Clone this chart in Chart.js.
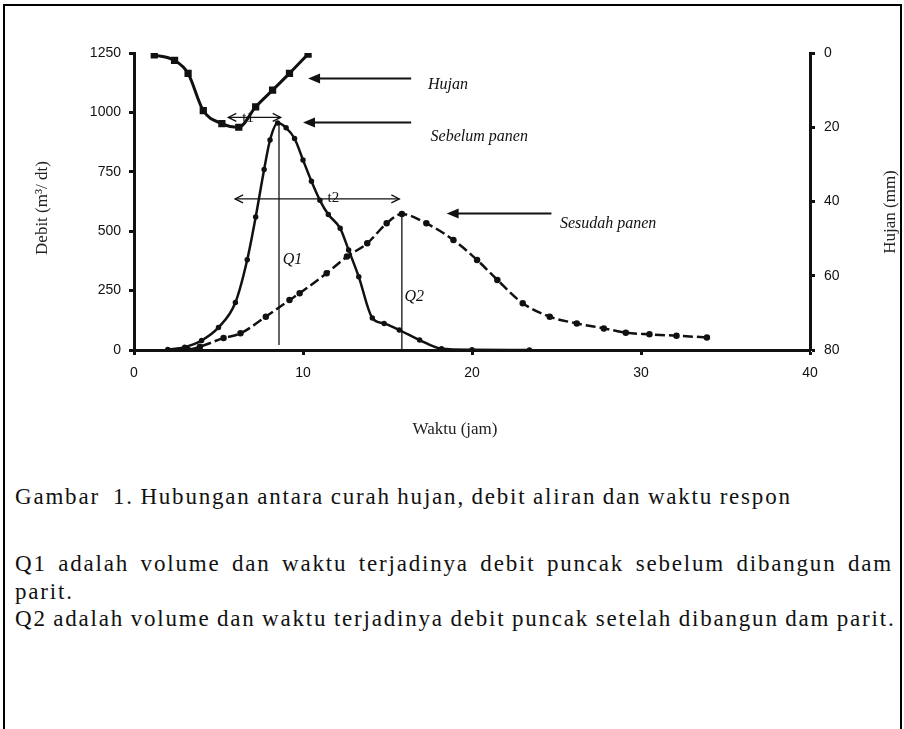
<!DOCTYPE html>
<html>
<head>
<meta charset="utf-8">
<script src="https://cdn.jsdelivr.net/npm/chart.js@4.4.0/dist/chart.umd.min.js"></script>
<style>
  body { margin: 0; background: #fff; width: 904px; height: 729px; overflow: hidden; position: relative; }
  #frame { position: absolute; left: 3px; top: 4px; width: 895px; height: 760px; border: 2px solid #000; }
  #wrap { position: absolute; left: 0; top: 0; width: 904px; height: 460px; }
  .cap { position: absolute; left: 15px; font-family: "Liberation Serif", "Times New Roman", serif; font-size: 23px;
         line-height: 23px; color: #111; white-space: pre; letter-spacing: 1.8px; word-spacing: -1px; }
  #q1 { width: 878px; white-space: normal; text-align: justify; text-align-last: justify; }
</style>
</head>
<body>
<div id="frame"></div>
<div id="wrap"><canvas id="hydro" width="904" height="460"></canvas></div>
<div class="cap" style="top:485px">Gambar  1. Hubungan antara curah hujan, debit aliran dan waktu respon</div>
<div class="cap" id="q1" style="top:552px">Q1 adalah volume dan waktu terjadinya debit puncak sebelum dibangun dam</div>
<div class="cap" style="top:580px">parit.</div>
<div class="cap" style="top:607px">Q2 adalah volume dan waktu terjadinya debit puncak setelah dibangun dam parit.</div>

<script>
// rainfall (mm, right axis, drawn downward from the top)
const rainHours = [1.2, 2.4, 3.2, 4.1, 5.2, 6.2, 7.2, 8.2, 9.2, 10.3];
const rainMm = [0.5, 2, 5.5, 15.5, 19, 20, 14.5, 10, 5.5, 0.3];

// discharge before harvest (m3/dt)
const beforeHours = [2, 3, 4, 5, 6, 6.7, 7.2, 7.7, 8.05, 8.5, 9.0, 9.5, 10.0, 10.5, 11.0, 11.5, 12.2, 12.7, 13.3, 14.1, 14.8, 15.7, 16.9, 18.2, 20, 23.4];
const beforeFlow = [2, 12, 40, 95, 200, 380, 560, 760, 884, 955, 935, 890, 800, 710, 630, 570, 512, 421, 308, 135, 112, 84, 42, 5, 1, 0];

// discharge after harvest (m3/dt)
const afterHours = [3.2, 3.9, 5.3, 6.3, 7.8, 9.2, 9.8, 11.4, 12.6, 13.8, 14.95, 15.85, 17.3, 18.9, 20.3, 21.5, 23.0, 24.6, 26.2, 27.8, 29.1, 30.5, 32.1, 33.9];
const afterFlow = [0, 14, 50, 70, 140, 210, 239, 323, 393, 449, 533, 572, 533, 463, 379, 295, 197, 140, 112, 91, 73, 66, 60, 53];

// axis ticks
const hourTicks = [0, 10, 20, 30, 40];
const flowTicks = [0, 250, 500, 750, 1000, 1250];
const rainTicks = [0, 20, 40, 60, 80];

const pts = (xs, ys) => xs.map((x, i) => ({ x: x, y: ys[i] }));

const tickFont = { family: "'Liberation Sans Narrow', 'Liberation Sans', Arial, sans-serif", size: 14 };
const serif = "'Liberation Serif', 'Times New Roman', serif";

function drawArrowHead(ctx, x, y, dir) {
  ctx.beginPath();
  ctx.moveTo(x, y);
  ctx.lineTo(x - dir * 12, y - 5);
  ctx.lineTo(x - dir * 12, y + 5);
  ctx.closePath();
  ctx.fill();
}

function drawOpenHead(ctx, x, y, dir) {
  ctx.beginPath();
  ctx.moveTo(x - dir * 8, y - 4);
  ctx.lineTo(x, y);
  ctx.lineTo(x - dir * 8, y + 4);
  ctx.stroke();
}

// labels, arrows and the Q1/Q2 markers, placed in hour / debit units
const notes = {
  id: 'notes',
  afterDatasetsDraw(chart) {
    const { ctx, scales: { x, y } } = chart;
    ctx.save();
    ctx.fillStyle = '#111';
    ctx.strokeStyle = '#111';

    // pointers to each curve
    const pointers = [
      { from: 16.4, to: 10.3, at: 1143, text: 'Hujan', tx: 17.4, ty: 1115 },
      { from: 16.4, to: 10.0, at: 957, text: 'Sebelum panen', tx: 17.55, ty: 896 },
      { from: 24.7, to: 18.5, at: 575, text: 'Sesudah panen', tx: 25.2, ty: 530 }
    ];
    ctx.lineWidth = 2;
    ctx.font = 'italic 16px ' + serif;
    ctx.textBaseline = 'middle';
    ctx.textAlign = 'left';
    pointers.forEach(p => {
      const py = y.getPixelForValue(p.at);
      const x0 = x.getPixelForValue(p.to);
      const x1 = x.getPixelForValue(p.from);
      ctx.beginPath();
      ctx.moveTo(x1, py);
      ctx.lineTo(x0 + 10, py);
      ctx.stroke();
      drawArrowHead(ctx, x0, py, -1);
      ctx.fillText(p.text, x.getPixelForValue(p.tx), y.getPixelForValue(p.ty));
    });

    // response time spans
    const spans = [
      { a: 5.58, b: 8.68, at: 979, text: 't1', tx: 6.75, ty: 976 },
      { a: 5.98, b: 15.7, at: 636, text: 't2', tx: 11.8, ty: 640 }
    ];
    ctx.lineWidth = 1.3;
    ctx.font = '15px ' + serif;
    ctx.textAlign = 'center';
    spans.forEach(s => {
      const py = y.getPixelForValue(s.at);
      const xa = x.getPixelForValue(s.a);
      const xb = x.getPixelForValue(s.b);
      ctx.beginPath();
      ctx.moveTo(xa, py);
      ctx.lineTo(xb, py);
      ctx.stroke();
      drawOpenHead(ctx, xa, py, -1);
      drawOpenHead(ctx, xb, py, 1);
      ctx.fillText(s.text, x.getPixelForValue(s.tx), y.getPixelForValue(s.ty));
    });

    // peak markers
    const peaks = [
      { h: 8.58, top: 955, bottom: 21, text: 'Q1', tx: 8.8, ty: 379 },
      { h: 15.85, top: 572, bottom: 0, text: 'Q2', tx: 16.0, ty: 223 }
    ];
    ctx.font = 'italic 16px ' + serif;
    ctx.textAlign = 'left';
    peaks.forEach(q => {
      const px = x.getPixelForValue(q.h);
      ctx.beginPath();
      ctx.moveTo(px, y.getPixelForValue(q.top));
      ctx.lineTo(px, y.getPixelForValue(q.bottom));
      ctx.stroke();
      ctx.fillText(q.text, x.getPixelForValue(q.tx), y.getPixelForValue(q.ty));
    });

    // axis titles (both vertical ones read bottom to top)
    ctx.font = '17px ' + serif;
    ctx.textAlign = 'center';
    ctx.fillStyle = '#222';
    ctx.fillText('Waktu (jam)', 455, 430);
    ctx.save();
    ctx.translate(43, 208);
    ctx.rotate(-Math.PI / 2);
    ctx.fillText('Debit (m\u00B3/ dt)', 0, 0);
    ctx.restore();
    ctx.save();
    ctx.translate(891, 212);
    ctx.rotate(-Math.PI / 2);
    ctx.fillText('Hujan (mm)', 0, 0);
    ctx.restore();

    ctx.restore();
  }
};

const axisGrid = { drawOnChartArea: false, color: '#111', tickLength: 5, tickWidth: 3 };
const axisBorder = { color: '#111', width: 3 };
const plain = v => String(v);

new Chart(document.getElementById('hydro'), {
  type: 'line',
  data: {
    datasets: [
      {
        label: 'Hujan',
        data: pts(rainHours, rainMm),
        yAxisID: 'y2',
        borderColor: '#111',
        backgroundColor: '#111',
        borderWidth: 3,
        pointRadius: 3,
        pointStyle: 'rect',
        cubicInterpolationMode: 'monotone'
      },
      {
        label: 'Sebelum panen',
        data: pts(beforeHours, beforeFlow),
        yAxisID: 'y',
        borderColor: '#111',
        backgroundColor: '#111',
        borderWidth: 2.5,
        pointRadius: 1.5,
        cubicInterpolationMode: 'monotone'
      },
      {
        label: 'Sesudah panen',
        data: pts(afterHours, afterFlow),
        yAxisID: 'y',
        borderColor: '#111',
        backgroundColor: '#111',
        borderWidth: 2.5,
        borderDash: [10, 4],
        pointRadius: 2,
        cubicInterpolationMode: 'monotone'
      }
    ]
  },
  options: {
    responsive: false,
    animation: false,
    layout: { padding: { top: 53, left: 0, right: 0, bottom: 0 } },
    plugins: { legend: { display: false }, tooltip: { enabled: false } },
    scales: {
      x: {
        type: 'linear', min: 0, max: 40,
        afterBuildTicks: s => { s.ticks = hourTicks.map(v => ({ value: v })); },
        ticks: { font: tickFont, color: '#111', padding: 10, maxRotation: 0, callback: plain },
        grid: axisGrid, border: axisBorder,
        afterFit: s => { s.height = 110; }
      },
      y: {
        min: 0, max: 1250,
        afterBuildTicks: s => { s.ticks = flowTicks.map(v => ({ value: v })); },
        ticks: { font: tickFont, color: '#111', padding: 8, callback: plain },
        grid: axisGrid, border: axisBorder,
        afterFit: s => { s.width = 134; }
      },
      y2: {
        position: 'right', min: 0, max: 80, reverse: true,
        afterBuildTicks: s => { s.ticks = rainTicks.map(v => ({ value: v })); },
        ticks: { font: tickFont, color: '#111', padding: 9, callback: plain },
        grid: axisGrid, border: axisBorder,
        afterFit: s => { s.width = 94; }
      }
    }
  },
  plugins: [notes]
});
</script>
</body>
</html>
